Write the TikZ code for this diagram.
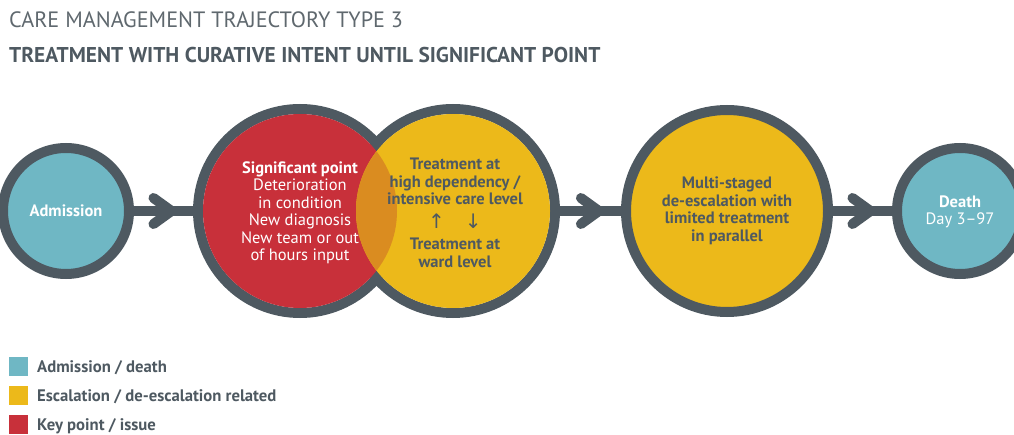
\documentclass[tikz,border=0pt]{standalone}
\usepackage{fontspec}
\setmainfont{PT Sans}
\newfontfamily\symfont{DejaVu Sans}
\usetikzlibrary{arrows.meta,decorations.markings}

\definecolor{ringgray}{RGB}{78,89,97}
\definecolor{tealc}{RGB}{111,183,196}
\definecolor{redc}{RGB}{200,48,58}
\definecolor{yellowc}{RGB}{236,185,26}
\definecolor{overlapc}{RGB}{218,140,32}
\definecolor{titlegray}{RGB}{95,104,110}

\begin{document}
\begin{tikzpicture}[x=1pt, y=-1pt,
	ring/.style={circle, draw=ringgray, line width=10pt, minimum size=204pt, inner sep=0pt},
	endcircle/.style={ring, fill=tealc, minimum size=126pt},
	inside/.style={align=center, font=\fontsize{16.5}{17.5}\selectfont},
	link/.style={draw=ringgray, line width=10pt, postaction={decorate}, decoration={markings, mark=at position 0.72 with {\arrow{Straight Barb[length=18pt, width=26pt, line cap=round, line join=round]}}}},
	key/.style={minimum size=19pt, inner sep=0pt, anchor=north west},
	keytext/.style={anchor=base west, inner sep=0pt, text=ringgray, font=\fontsize{16.7}{18}\selectfont\bfseries}]
	\useasboundingbox (0,0) rectangle (1014,435);
	\clip (0,0) rectangle (1014,435);
	
	\node[anchor=base west, inner sep=0pt, text=titlegray, font=\fontsize{22.2}{26}\selectfont] (kind) at (9,28) {CARE MANAGEMENT TRAJECTORY TYPE 3};
	\node[anchor=base west, inner sep=0pt, text=ringgray, font=\fontsize{21.4}{26}\selectfont\bfseries] (title) at (9,63) {TREATMENT WITH CURATIVE INTENT UNTIL SIGNIFICANT POINT};
	
	\node[endcircle] (adm) at (66,211) {};
	\node[ring] (sig) at (300,211) {};
	\node[ring] (hdu) at (453,211) {};
	\node[ring, fill=yellowc, minimum size=202pt] (multi) at (727,211) {};
	\node[endcircle] (death) at (960,211) {};
	
	% red and yellow circles overlap
	\fill[redc] (sig) circle (97);
	\fill[yellowc] (hdu) circle (97);
	\begin{scope}
		\clip (sig) circle (97);
		\fill[overlapc] (hdu) circle (97);
	\end{scope}
	
	\node[inside, text=white] (admtext) at (adm) {\bfseries Admission};
	\node[inside, text=white] (sigtext) at (300,213) {\textbf{Significant point}\\Deterioration\\in condition\\New diagnosis\\New team or out\\of hours input};
	\node[inside, text=ringgray, font=\fontsize{16.5}{17.5}\selectfont\bfseries] (hdutext) at (455,213) {Treatment at\\high dependency /\\intensive care level\\[6pt]{\symfont\mdseries\fontsize{20}{20}\selectfont ↑\hspace{1em}↓}\\[4pt]Treatment at\\ward level};
	\node[inside, text=ringgray, font=\fontsize{16.5}{17.5}\selectfont\bfseries] (multitext) at (727,211) {Multi-staged\\de-escalation with\\limited treatment\\in parallel};
	\node[inside, text=white] (deathtext) at (960,212) {\textbf{Death}\\Day 3–97};
	
	\path (adm) edge[link] (sig);
	\path (hdu) edge[link] (multi);
	\path (multi) edge[link] (death);
	
	\node[key, fill=tealc] (k1) at (9,357) {};
	\node[key, fill=yellowc] (k2) at (9,386) {};
	\node[key, fill=redc] (k3) at (9,415) {};
	\node[keytext] at (37,372) {Admission / death};
	\node[keytext] at (37,401) {Escalation / de-escalation related};
	\node[keytext] at (37,430) {Key point / issue};
\end{tikzpicture}
\end{document}
